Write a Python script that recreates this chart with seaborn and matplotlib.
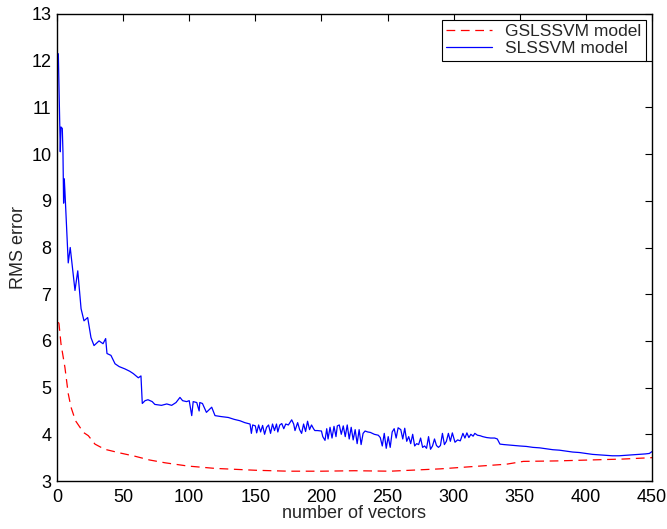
import matplotlib
matplotlib.use("Agg")
import matplotlib.pyplot as plt
import seaborn as sns
import pandas as pd

# ---- data ----
slssvm_x = [1, 2.5, 3, 4, 4.5, 5, 5.5, 6, 7, 8.5, 10, 12, 13.6, 15.7, 18.2, 20.4, 23.2, 25.7, 28,
            31.8, 34.8, 36.8, 37.8, 40.8, 43.9, 47, 51.4, 55, 57.7, 61.5, 63.5, 64.5, 66.6, 68.8,
            72, 74, 79, 83, 86.7, 90, 93, 95, 98, 100, 101.9, 103, 105.7, 107.5, 108, 110, 113,
            117, 119.5, 124, 129.6, 134, 138.4, 142, 146, 147, 148, 150, 151, 152.5, 154, 155.5,
            157, 158.5, 160, 161.5, 163, 164.5, 166, 167, 168.5, 170, 171.5, 173, 175, 177.5,
            179, 180, 182, 183.5, 185, 186.5, 188, 189.5, 191, 192.5, 194, 195, 197, 200, 201,
            202.7, 204, 205, 206.5, 208, 209.5, 211, 212, 213.5, 215, 216.5, 218, 219.5, 221,
            222.5, 224, 225.5, 227, 228.5, 230, 231.5, 233, 235, 237, 240, 243, 244.5, 246,
            247.5, 249, 250.5, 252, 253.5, 255, 256.5, 258, 260, 261.5, 263, 264.5, 266, 267.5,
            269, 270.5, 272, 273.5, 275, 276.5, 278, 279.5, 281, 282.5, 284, 285.5, 287, 288.5,
            290, 291.5, 293, 294.5, 296, 297.5, 299, 301, 303, 305, 307, 308.5, 310, 311.5, 313,
            314.7, 316, 318, 320, 322, 325, 328, 331, 333, 335, 338, 342, 346, 350, 355, 360,
            365, 370, 375, 380, 385, 390, 395, 400, 405, 410, 415, 420, 425, 430, 435, 440, 445,
            448, 450]
slssvm_y = [12.15, 10.05, 10.58, 10.55, 10.05, 8.95, 9.47, 9.2, 8.6, 7.67, 8.0, 7.5, 7.08, 7.5,
            6.69, 6.43, 6.5, 6.07, 5.9, 6.0, 5.94, 6.05, 5.73, 5.69, 5.51, 5.45, 5.4, 5.35, 5.3,
            5.21, 5.25, 4.66, 4.72, 4.74, 4.7, 4.64, 4.62, 4.65, 4.62, 4.68, 4.79, 4.72, 4.7,
            4.72, 4.4, 4.7, 4.68, 4.5, 4.68, 4.66, 4.47, 4.58, 4.4, 4.38, 4.36, 4.32, 4.29, 4.25,
            4.22, 4.02, 4.2, 4.18, 4.03, 4.2, 4.05, 4.19, 4.0, 4.15, 4.2, 4.02, 4.22, 4.08, 4.22,
            4.05, 4.2, 4.23, 4.12, 4.22, 4.2, 4.31, 4.22, 4.08, 4.25, 4.1, 4.02, 4.22, 4.06, 4.28,
            4.1, 4.2, 4.12, 4.08, 4.08, 4.07, 3.95, 3.87, 4.12, 3.9, 4.15, 3.92, 4.17, 3.95, 4.18,
            4.2, 4.0, 4.18, 3.95, 4.2, 3.9, 4.15, 3.88, 4.1, 3.8, 4.1, 3.78, 4.02, 4.07, 4.05,
            4.04, 4.0, 3.98, 3.93, 3.75, 4.02, 3.7, 3.95, 3.72, 4.05, 4.12, 3.92, 4.14, 4.1, 3.9,
            4.13, 3.85, 3.95, 3.8, 4.0, 3.75, 3.8, 3.78, 3.92, 3.72, 3.75, 3.7, 3.95, 3.68, 3.75,
            3.9, 3.76, 3.72, 3.76, 4.02, 3.78, 3.85, 4.02, 3.85, 4.03, 3.83, 3.88, 3.86, 4.02,
            3.92, 4.03, 3.93, 4.0, 3.96, 4.02, 3.98, 3.97, 3.95, 3.93, 3.92, 3.92, 3.9, 3.79,
            3.78, 3.77, 3.76, 3.75, 3.74, 3.72, 3.71, 3.69, 3.67, 3.66, 3.64, 3.62, 3.61, 3.59,
            3.57, 3.56, 3.55, 3.54, 3.54, 3.55, 3.56, 3.57, 3.58, 3.59, 3.63]

gslssvm_x = [1, 1.5, 3, 6, 8.5, 10.6, 14, 20, 23.7, 28.7, 36, 47.7, 59, 70, 81.7, 99, 119.5,
             150, 175, 200, 225, 252, 290, 315, 340, 352.7, 378, 403, 428, 450]
gslssvm_y = [6.4, 6.37, 5.94, 5.43, 4.87, 4.58, 4.29, 4.04, 3.97, 3.79, 3.68, 3.6, 3.53, 3.45,
             3.39, 3.32, 3.27, 3.23, 3.21, 3.21, 3.22, 3.21, 3.26, 3.31, 3.36, 3.42, 3.43, 3.45,
             3.47, 3.5]

x_ticks = [0, 50, 100, 150, 200, 250, 300, 350, 400, 450]
y_ticks = [3, 4, 5, 6, 7, 8, 9, 10, 11, 12, 13]
x_label = "number of vectors"
y_label = "RMS error"
label_g = "GSLSSVM model"
label_s = "SLSSVM model"

sns.set_style("white")
plt.rcParams['font.family'] = ['Liberation Sans', 'DejaVu Sans']

fig = plt.figure(figsize=(6.67, 5.29), dpi=100)
ax = fig.add_axes([57/667, 1 - 481/529, (652-57)/667, (481-14)/529])

df_g = pd.DataFrame({"x": gslssvm_x, "y": gslssvm_y})
df_s = pd.DataFrame({"x": slssvm_x, "y": slssvm_y})

sns.lineplot(data=df_g, x="x", y="y", ax=ax, color="#ff0000", lw=0.9,
             estimator=None, sort=False, label=label_g)
sns.lineplot(data=df_s, x="x", y="y", ax=ax, color="#0000ff", lw=0.9,
             estimator=None, sort=False, label=label_s)
ax.lines[0].set_dashes((7, 4.5))

ax.set_xlim(0, 450)
ax.set_ylim(3, 13)
ax.set_xticks(x_ticks)
ax.set_yticks(y_ticks)
ax.tick_params(direction="in", top=True, right=True, length=5, width=0.8,
               labelsize=13, colors="black")
ax.tick_params(axis="x", pad=6)
ax.tick_params(axis="y", pad=4)
for s in ax.spines.values():
    s.set_color("black")
    s.set_linewidth(1.0)
ax.set_xlabel(x_label, fontsize=13, labelpad=-1)
ax.set_ylabel(y_label, fontsize=13, labelpad=3)

leg = ax.legend(loc="upper right", bbox_to_anchor=(646/667, 1 - 20/529),
                bbox_transform=fig.transFigure, fontsize=12.5, frameon=True,
                fancybox=False, framealpha=1, edgecolor="black", handlelength=2.6,
                borderpad=0.25, labelspacing=0.1, handletextpad=0.8, borderaxespad=0)
leg.get_frame().set_linewidth(0.8)

fig.savefig("out.png", dpi=100)
